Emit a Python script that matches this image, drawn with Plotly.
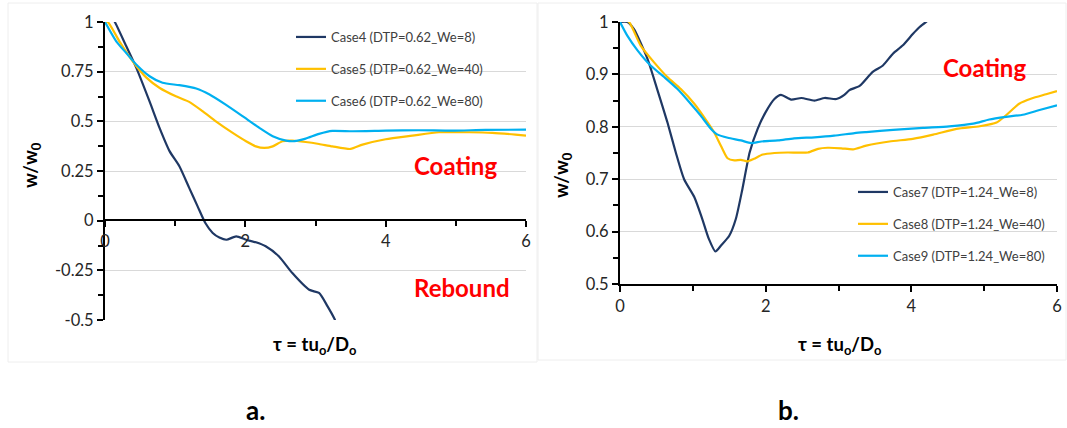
import plotly.graph_objects as go

# ---------------- data ----------------
# Panel a (DTP = 0.62)
case4_t = [0.0, 0.08, 0.14, 0.30, 0.445, 0.635, 0.777, 0.92, 1.06, 1.20, 1.32, 1.43, 1.535, 1.63, 1.73,
           1.87, 2.01, 2.15, 2.29, 2.48, 2.67, 2.91, 3.05, 3.17, 3.27, 3.30]
case4_w = [1.0, 1.03, 1.0, 0.88, 0.77, 0.60, 0.467, 0.35, 0.274, 0.165, 0.072, -0.012, -0.062, -0.085, -0.096,
           -0.079, -0.096, -0.109, -0.129, -0.18, -0.264, -0.348, -0.364, -0.43, -0.494, -0.52]

case5_t = [0.0, 0.04, 0.21, 0.40, 0.59, 0.78, 1.01, 1.20, 1.39, 1.58, 1.82, 2.01, 2.15, 2.27, 2.39, 2.53,
           2.67, 2.86, 3.05, 3.24, 3.50, 3.67, 4.0, 4.38, 4.76, 5.19, 5.52, 5.85, 6.0]
case5_w = [1.0, 1.0, 0.90, 0.80, 0.72, 0.668, 0.626, 0.598, 0.551, 0.50, 0.442, 0.40, 0.374, 0.366, 0.374, 0.40,
           0.403, 0.396, 0.386, 0.374, 0.361, 0.383, 0.41, 0.428, 0.445, 0.445, 0.442, 0.433, 0.428]

case6_t = [0.0, 0.16, 0.30, 0.445, 0.635, 0.82, 1.06, 1.30, 1.49, 1.72, 1.96, 2.20, 2.39, 2.58, 2.70, 2.86,
           3.05, 3.24, 3.53, 4.0, 4.47, 4.95, 5.42, 6.0]
case6_w = [1.0, 0.903, 0.845, 0.786, 0.727, 0.694, 0.682, 0.665, 0.635, 0.584, 0.526, 0.467, 0.425, 0.403, 0.40, 0.413,
           0.437, 0.452, 0.45, 0.453, 0.455, 0.453, 0.457, 0.458]

# Panel b (DTP = 1.24)
case7_t = [0.0, 0.10, 0.19, 0.376, 0.51, 0.65, 0.766, 0.88, 1.02, 1.13, 1.22, 1.31, 1.385, 1.50, 1.59, 1.68,
           1.78, 1.89, 2.0, 2.12, 2.21, 2.35, 2.49, 2.67, 2.81, 2.97, 3.08, 3.15, 3.29, 3.47, 3.61, 3.75,
           3.88, 4.02, 4.11, 4.2, 4.3]
case7_w = [1.0, 1.0, 0.987, 0.93, 0.872, 0.809, 0.751, 0.70, 0.666, 0.624, 0.586, 0.562, 0.573, 0.592, 0.624, 0.681,
           0.751, 0.796, 0.828, 0.853, 0.861, 0.852, 0.855, 0.85, 0.855, 0.853, 0.861, 0.87, 0.878, 0.905, 0.917, 0.94,
           0.955, 0.977, 0.99, 1.0, 1.01]

case8_t = [0.0, 0.124, 0.284, 0.468, 0.65, 0.835, 1.02, 1.156, 1.29, 1.385, 1.477, 1.57, 1.66, 1.75, 1.84, 1.96,
           2.12, 2.30, 2.58, 2.72, 2.85, 3.04, 3.2, 3.38, 3.70, 4.02, 4.30, 4.62, 4.94, 5.17, 5.30, 5.48,
           5.65, 5.85, 6.0]
case8_w = [1.01, 1.0, 0.955, 0.923, 0.895, 0.872, 0.844, 0.818, 0.79, 0.764, 0.74, 0.736, 0.737, 0.734, 0.739, 0.747,
           0.75, 0.751, 0.751, 0.758, 0.76, 0.759, 0.757, 0.764, 0.772, 0.777, 0.785, 0.796, 0.801, 0.808, 0.822, 0.844,
           0.854, 0.862, 0.868]

case9_t = [0.0, 0.10, 0.24, 0.42, 0.606, 0.79, 0.97, 1.11, 1.25, 1.34, 1.48, 1.66, 1.80, 1.94, 2.17, 2.39,
           2.67, 2.94, 3.22, 3.38, 3.75, 4.16, 4.52, 4.85, 5.07, 5.30, 5.53, 5.76, 6.0]
case9_w = [1.0, 0.974, 0.946, 0.917, 0.895, 0.872, 0.844, 0.821, 0.796, 0.785, 0.779, 0.774, 0.769, 0.772, 0.774, 0.778,
           0.78, 0.783, 0.788, 0.79, 0.794, 0.798, 0.801, 0.806, 0.814, 0.819, 0.823, 0.832, 0.841]

names_a = ["Case4 (DTP=0.62_We=8)", "Case5 (DTP=0.62_We=40)", "Case6 (DTP=0.62_We=80)"]
names_b = ["Case7 (DTP=1.24_We=8)", "Case8 (DTP=1.24_We=40)", "Case9 (DTP=1.24_We=80)"]

xticks = [0, 2, 4, 6]
yticks_a = [-0.5, -0.25, 0, 0.25, 0.5, 0.75, 1]
yticklabels_a = ["-0.5", "-0.25", "0", "0.25", "0.5", "0.75", "1"]
yticks_b = [0.5, 0.6, 0.7, 0.8, 0.9, 1.0]
yticklabels_b = ["0.5", "0.6", "0.7", "0.8", "0.9", "1"]

# ---------------- style ----------------
W, H = 1067, 428
FONT = "Lato"
NAVY, GOLD, CYAN = "#1F3864", "#FFC000", "#00B0F0"
colors = [NAVY, GOLD, CYAN]

def px(x):
    return x / W

def py(y):
    return 1 - y / H

fig = go.Figure()

series_a = [(case4_t, case4_w), (case5_t, case5_w), (case6_t, case6_w)]
series_b = [(case7_t, case7_w), (case8_t, case8_w), (case9_t, case9_w)]

for i, ((t, w), name) in enumerate(zip(series_a, names_a)):
    fig.add_trace(go.Scatter(x=t, y=w, mode="lines", name=name, xaxis="x", yaxis="y",
                             line=dict(color=colors[i], width=2.2, shape="spline", smoothing=0.6),
                             legend="legend", legendgroup="a%d" % i))
for i, ((t, w), name) in enumerate(zip(series_b, names_b)):
    fig.add_trace(go.Scatter(x=t, y=w, mode="lines", name=name, xaxis="x2", yaxis="y2",
                             line=dict(color=colors[i], width=2.2, shape="spline", smoothing=0.6),
                             legend="legend2", legendgroup="b%d" % i))

tickfont = dict(family=FONT, size=16.5, color="#262626")
grid = "#D9D9D9"

# panel geometry (pixels)
La_x0, La_x1 = 105, 526
La_ytop, La_ybot = 22, 320   # y=1 and y=-0.5
y0_px = 220                   # y = 0
Rb_x0, Rb_x1 = 620, 1057
Rb_ytop, Rb_ybot = 22, 284

def xax(domain, **kw):
    d = dict(domain=domain, range=[0, 6],
             tickvals=xticks, ticktext=[str(v) for v in xticks], tickfont=tickfont,
             showline=True, linecolor="black", linewidth=2, ticks="outside", ticklen=6,
             tickcolor="black", tickwidth=2,
             minor=dict(dtick=1, ticks="outside", ticklen=5, tickcolor="black", tickwidth=1.5, showgrid=False),
             showgrid=False, zeroline=False, automargin=False, fixedrange=True)
    d.update(kw)
    return d

def yax(domain, rng, vals, labels, mdt, **kw):
    d = dict(domain=domain, range=rng, tickvals=vals, ticktext=labels, tickfont=tickfont,
             showline=True, linecolor="black", linewidth=2, ticks="outside", ticklen=6,
             tickcolor="black", tickwidth=2,
             minor=dict(dtick=mdt, tick0=rng[0], ticks="outside", ticklen=5, tickcolor="black", tickwidth=1.5,
                        showgrid=False),
             showgrid=True, gridcolor=grid, gridwidth=1, zeroline=False, automargin=False, fixedrange=True)
    d.update(kw)
    return d

fig.update_layout(
    width=W, height=H, autosize=False,
    margin=dict(l=0, r=0, t=0, b=0),
    paper_bgcolor="white", plot_bgcolor="white",
    font=dict(family=FONT, color="#262626"),
    xaxis=xax([px(La_x0), px(La_x1)], anchor="free", position=py(y0_px)),
    yaxis=yax([py(La_ybot), py(La_ytop)], [-0.5, 1], yticks_a, yticklabels_a, 0.125, anchor="x"),
    xaxis2=xax([px(Rb_x0), px(Rb_x1)], anchor="y2"),
    yaxis2=yax([py(Rb_ybot), py(Rb_ytop)], [0.5, 1], yticks_b, yticklabels_b, 0.05, anchor="x2"),
    legend=dict(x=px(291), y=py(22), xanchor="left", yanchor="top", bgcolor="rgba(0,0,0,0)",
                font=dict(family=FONT, size=13, color="#404040"), tracegroupgap=12, itemwidth=30),
    legend2=dict(x=px(853), y=py(177), xanchor="left", yanchor="top", bgcolor="rgba(0,0,0,0)",
                 font=dict(family=FONT, size=13, color="#404040"), tracegroupgap=12, itemwidth=30),
    showlegend=True,
)

# faint panel frames
fig.add_shape(type="rect", xref="paper", yref="paper", x0=px(8), x1=px(537), y0=py(362), y1=py(3),
              line=dict(color="#EEEEEE", width=1), layer="below")
fig.add_shape(type="rect", xref="paper", yref="paper", x0=px(538), x1=px(1066), y0=py(360), y1=py(3),
              line=dict(color="#EEEEEE", width=1), layer="below")

def ann(x, y, text, size, color="black", bold=True, angle=0):
    fig.add_annotation(x=px(x), y=py(y), xref="paper", yref="paper", text=("<b>%s</b>" % text) if bold else text,
                       showarrow=False, textangle=angle, xanchor="center", yanchor="middle",
                       font=dict(family=FONT, size=size, color=color))

ann(31, 165, "w/w<sub>0</sub>", 18.5, angle=-90)
ann(562, 175, "w/w<sub>0</sub>", 18.5, angle=-90)
ann(314, 345, "τ = tu<sub>o</sub>/D<sub>o</sub>", 18.5)
ann(839, 345, "τ = tu<sub>o</sub>/D<sub>o</sub>", 18.5)
ann(455, 165, "Coating", 24, color="#FF0000")
ann(462, 287, "Rebound", 24, color="#FF0000")
ann(984, 67, "Coating", 24, color="#FF0000")
ann(255, 410, "a.", 26)
ann(788, 410, "b.", 26)

fig.write_html("out.html", config={"displayModeBar": False},
               post_script="document.body.style.margin='0';")
